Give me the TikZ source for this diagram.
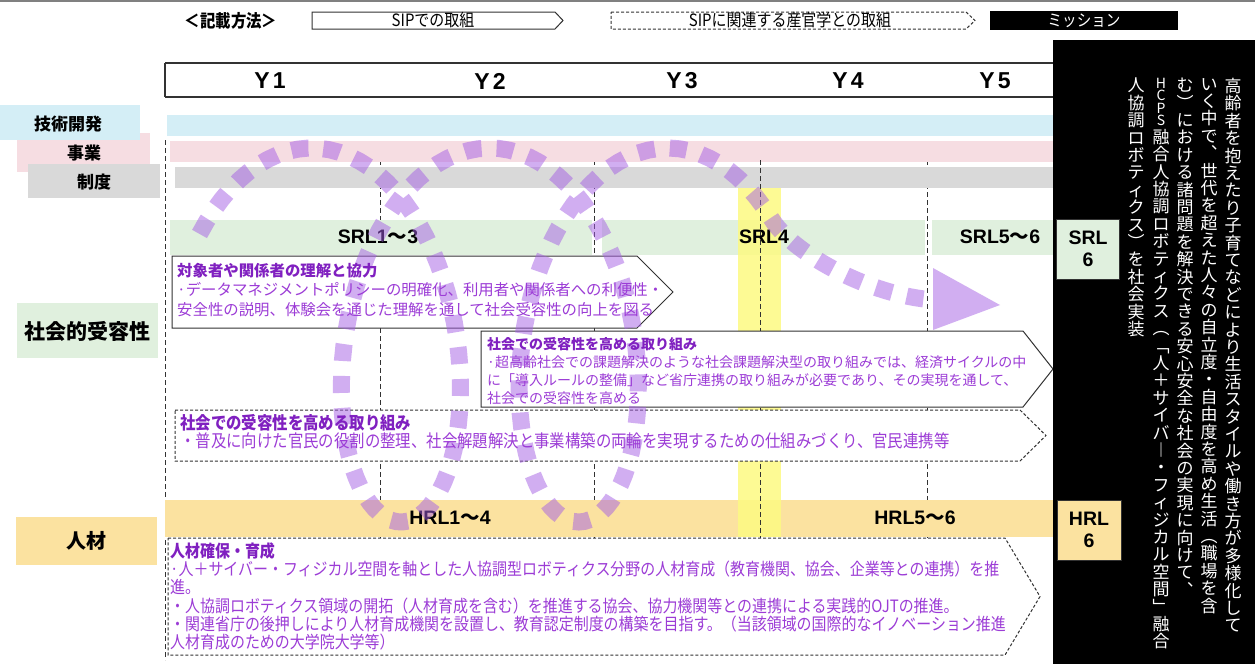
\documentclass[tikz,border=0pt]{standalone}
\usepackage{fontspec}
\setmainfont{Noto Sans CJK JP}
\newfontfamily\jpc[FakeStretch=0.88]{Noto Sans CJK JP}
\newfontfamily\lat{Liberation Sans}
\definecolor{cblue}{RGB}{212,238,246}
\definecolor{cpink}{RGB}{246,221,226}
\definecolor{cgray}{RGB}{217,217,217}
\definecolor{cgreen}{RGB}{224,240,222}
\definecolor{corange}{RGB}{251,226,160}
\definecolor{cyellow}{RGB}{253,250,130}
\definecolor{ptitle}{RGB}{128,32,192}
\definecolor{pbody}{RGB}{156,60,214}
\definecolor{spir}{RGB}{165,95,228}
\definecolor{edge}{RGB}{50,50,50}
\makeatletter
\def\vsm{s}\def\vnm{n}\def\vc@f{}
\newcommand\vcolumn[1]{\vbox{\lineskiplimit=-100pt\lineskip=0pt\baselineskip=17.4pt\vc@a#1\relax}}
\def\vc@a#1{\ifx\relax#1\let\vc@next\relax\else\vc@b{#1}\let\vc@next\vc@a\fi\vc@next}
\def\vc@b#1{\ifx\vsm#1\baselineskip=12.5pt\def\vc@f{\fontsize{14}{14}\selectfont}\else\ifx\vnm#1\baselineskip=17.4pt\def\vc@f{}\else\hbox to 18pt{\hss\vc@f#1\hss}\fi\fi}
\makeatother
\tikzset{
  lbl/.style={font=\bfseries\fontsize{17}{20}\selectfont, inner sep=0},
  ylab/.style={font=\lat\bfseries\fontsize{23}{26}\selectfont, inner sep=0},
  bandlab/.style={font=\bfseries\fontsize{19.5}{22}\selectfont, inner sep=0},
  gridline/.style={draw=edge, line width=0.9pt, dash pattern=on 5pt off 3pt},
  hdr/.style={draw=edge, line width=1.3pt},
  solidbox/.style={draw=edge, fill=white, line width=1pt, line join=miter},
  dashbox/.style={draw=edge, fill=white, line width=1pt, dash pattern=on 3pt off 2pt},
  boxtxt/.style={anchor=north west, inner sep=0, align=left, text=pbody},
  vtxt/.style={anchor=north, inner sep=0, text=white, font=\fontsize{17}{17.4}\selectfont},
  spiral/.style={draw=spir, draw opacity=0.5, line width=17pt, dash pattern=on 17pt off 15pt},
  lvbox/.style={draw=edge, line width=1pt, minimum height=60pt, inner sep=0, align=center, font=\lat\bfseries\fontsize{19.5}{22}\selectfont}
}
\begin{document}
\begin{tikzpicture}[x=1pt,y=-1pt]
\useasboundingbox (0,0) rectangle (1255,664);
\fill[white] (0,0) rectangle (1255,664);
\draw[gray, line width=1.5pt] (0,0.75) -- (1255,0.75);
% legend
\node[font=\jpc\bfseries\fontsize{17.5}{20}\selectfont, inner sep=0] (leg) at (231,20.5) {＜記載方法＞};
\draw[draw=edge, line width=1pt] (312,12) -- (555,12) -- (563,20.5) -- (555,29) -- (312,29) -- cycle;
\node[font=\jpc\fontsize{17}{18}\selectfont, inner sep=0] (legsip) at (433,20.5) {SIPでの取組};
\draw[draw=edge, line width=1pt, dash pattern=on 3pt off 2pt] (611,12) -- (966,12) -- (975,20.5) -- (966,29) -- (611,29) -- cycle;
\node[font=\jpc\fontsize{17}{18}\selectfont, inner sep=0] (legrel) at (790,20.5) {SIPに関連する産官学との取組};
\fill[black] (990,11) rectangle (1178,30);
\node[font=\jpc\fontsize{16.5}{18}\selectfont, text=white, inner sep=0] (legmis) at (1084,20.5) {ミッション};
% header
\draw[hdr] (165,63) -- (1053,63);
\draw[hdr] (165,97) -- (1053,97);
\draw[hdr] (165,63) -- (165,97);
\node[ylab] (y1) at (270,81) {Y\hspace{3pt}1};
\node[ylab] (y2) at (490,81) {Y\hspace{3pt}2};
\node[ylab] (y3) at (682,81) {Y\hspace{3pt}3};
\node[ylab] (y4) at (848,81) {Y\hspace{3pt}4};
\node[ylab] (y5) at (995,81) {Y\hspace{3pt}5};
% left labels
\fill[cpink] (17,133) rectangle (150,172);
\fill[cblue] (0,105) rectangle (140,140);
\fill[cgray] (28,164) rectangle (160,198);
\node[lbl] (lgi) at (68,124) {技術開発};
\node[lbl] (ljig) at (84,153) {事業};
\node[lbl] (lsei) at (94,182) {制度};
\fill[cgreen] (17,303) rectangle (158,358);
\node[lbl, font=\bfseries\fontsize{21}{24}\selectfont] (lsha) at (87,331) {社会的受容性};
\fill[corange] (16,517) rectangle (157,565);
\node[lbl, font=\bfseries\fontsize{20}{24}\selectfont] (ljin) at (86,541) {人材};
% grid lines
\draw[gridline] (165,140) -- (165,660);
\draw[gridline] (380,160) -- (380,538);
\draw[gridline] (594,160) -- (594,538);
\draw[gridline] (927,160) -- (927,538);
% bands
\fill[cblue] (167,115) rectangle (1053,136);
\fill[cpink] (170,141) rectangle (1053,162);
\fill[cgray] (175,167) rectangle (1053,188);
\fill[cgreen] (170,220) rectangle (592,255);
\fill[cgreen] (602,220) rectangle (925,255);
\fill[cgreen] (932,220) rectangle (1053,255);
\fill[corange] (165,500) rectangle (1053,537);
\fill[cyellow, opacity=0.85] (738,188) rectangle (781,537);
\draw[gridline] (760,160) -- (760,538);
\node[bandlab] (srl1) at (378,237) {{\lat SRL1}〜{\lat 3}};
\node[bandlab] (srl4) at (764,237) {\lat SRL4};
\node[bandlab] (srl5) at (1000,237) {{\lat SRL5}〜{\lat 6}};
\node[bandlab] (hrl1) at (450,518) {{\lat HRL1}〜{\lat 4}};
\node[bandlab] (hrl5) at (915,518) {{\lat HRL5}〜{\lat 6}};
% boxes
\draw[solidbox] (172,256) -- (637,256) -- (673,292) -- (637,328) -- (172,328) -- cycle;
\draw[solidbox] (481,331) -- (1023,331) -- (1053,369) -- (1023,407) -- (481,407) -- cycle;
\draw[dashbox] (175,410) -- (1020,410) -- (1046,435.5) -- (1020,461) -- (175,461) -- cycle;
\draw[dashbox] (168,538) -- (1005,538) -- (1040,596.5) -- (1005,655) -- (168,655) -- cycle;
% spiral
\draw[spiral] plot[domain=-1:13.466, samples=180, variable=\t] ({312+28.3*\t+100*sin(\t r)}, {335-187*cos(\t r)}) .. controls (792,253) and (870,296) .. (935,300);
\fill[spir, opacity=0.5] (933,268) -- (1000,305) -- (933,330) -- cycle;
% box texts
\node[boxtxt, font=\fontsize{15.4}{19.5}\selectfont] (ta) at (177,263) {\textcolor{ptitle}{\bfseries 対象者や関係者の理解と協力}\\·データマネジメントポリシーの明確化、利用者や関係者への利便性・\\安全性の説明、体験会を通じた理解を通して社会受容性の向上を図る};
\node[boxtxt, font=\fontsize{14}{18}\selectfont] (tb) at (487,337) {\textcolor{ptitle}{\bfseries 社会での受容性を高める取り組み}\\·超高齢社会での課題解決のような社会課題解決型の取り組みでは、経済サイクルの中\\に「導入ルールの整備」など省庁連携の取り組みが必要であり、その実現を通して、\\社会での受容性を高める};
\node[boxtxt, font=\jpc\fontsize{17.5}{18}\selectfont] (tc) at (180,414) {\textcolor{ptitle}{\bfseries 社会での受容性を高める取り組み}\\・普及に向けた官民の役割の整理、社会解題解決と事業構築の両輪を実現するための仕組みづくり、官民連携等};
\node[boxtxt, font=\jpc\fontsize{17}{18.2}\selectfont] (td) at (170,542.5) {\textcolor{ptitle}{\bfseries 人材確保・育成}\\·人＋サイバー・フィジカル空間を軸とした人協調型ロボティクス分野の人材育成（教育機関、協会、企業等との連携）を推\\進。\\・人協調ロボティクス領域の開拓（人材育成を含む）を推進する協会、協力機関等との連携による実践的OJTの推進。\\・関連省庁の後押しにより人材育成機関を設置し、教育認定制度の構築を目指す。（当該領域の国際的なイノベーション推進\\人材育成のための大学院大学等）};
% mission column
\fill[black] (1053,40) rectangle (1255,664);
\node[lvbox, fill=cgreen, minimum width=63pt] (srl6) at (1088,249) {SRL\\6};
\node[lvbox, fill=corange, minimum width=64pt] (hrl6) at (1089,530) {HRL\\6};
\node[vtxt] (m1) at (1233,78) {\vcolumn{高齢者を抱えたり子育てなどにより生活スタイルや働き方が多様化して}};
\node[vtxt] (m2) at (1209,78) {\vcolumn{いく中で︑世代を超えた人々の自立度・自由度を高め生活︵職場を含}};
\node[vtxt] (m3) at (1185,78) {\vcolumn{む︶における諸問題を解決できる安心安全な社会の実現に向けて︑}};
\node[vtxt] (m4) at (1161,78) {\vcolumn{\vsm HCPS\vnm 融合人協調ロボティクス︵﹁人＋サイバ︱・フィジカル空間﹂融合}};
\node[vtxt] (m5) at (1136,78) {\vcolumn{人協調ロボティクス︶を社会実装}};
\end{tikzpicture}
\end{document}
